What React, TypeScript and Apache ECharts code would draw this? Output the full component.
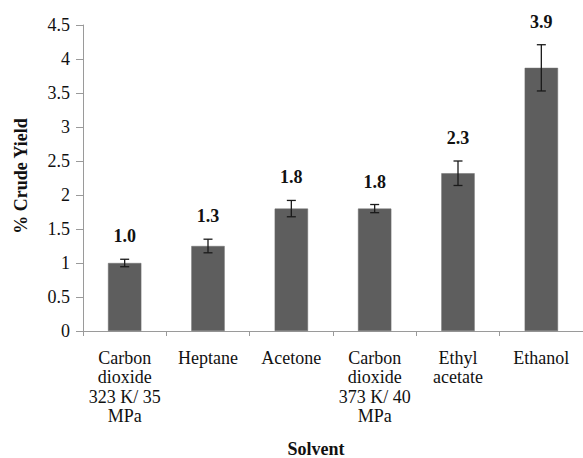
import React, { useEffect, useRef } from "react";
import * as echarts from "echarts";

const categories = [
  "Carbon\ndioxide\n323 K/ 35\nMPa",
  "Heptane",
  "Acetone",
  "Carbon\ndioxide\n373 K/ 40\nMPa",
  "Ethyl\nacetate",
  "Ethanol",
];
const yieldValues = [1.0, 1.25, 1.8, 1.8, 2.32, 3.87];
const errorValues = [0.055, 0.1, 0.12, 0.06, 0.18, 0.34];
const valueLabels = ["1.0", "1.3", "1.8", "1.8", "2.3", "3.9"];
const yTickMin = 0;
const yTickMax = 4.5;
const yTickStep = 0.5;

const FONT = "Liberation Serif";

export default function App() {
  const ref = useRef<HTMLDivElement>(null);
  useEffect(() => {
    if (!ref.current) return;
    const chart = echarts.init(ref.current, null, { renderer: "svg" });
    const errData = yieldValues.map((v, i) => [i, v + errorValues[i], v - errorValues[i], i]);
    chart.setOption({
      animation: false,
      backgroundColor: "#ffffff",
      textStyle: { fontFamily: FONT },
      grid: { left: 83, right: -7, top: 25, bottom: 127, containLabel: false },
      xAxis: {
        type: "category",
        data: categories,
        boundaryGap: true,
        axisLine: { lineStyle: { color: "#9a9a9a", width: 1 } },
        axisTick: { show: true, length: 5, lineStyle: { color: "#9a9a9a" }, alignWithLabel: false },
        axisLabel: {
          interval: 0,
          color: "#111",
          fontFamily: FONT,
          fontSize: 18,
          lineHeight: 19.5,
          margin: 17,
        },
        splitLine: { show: false },
      },
      yAxis: {
        type: "value",
        min: yTickMin,
        max: yTickMax,
        interval: yTickStep,
        axisLine: { show: true, lineStyle: { color: "#9a9a9a", width: 1 } },
        axisTick: { show: true, length: 7, lineStyle: { color: "#9a9a9a" } },
        axisLabel: {
          color: "#111",
          fontFamily: FONT,
          fontSize: 18,
          margin: 13,
          formatter: (v: number) => String(v),
        },
        splitLine: { show: false },
      },
      graphic: [
        {
          type: "text",
          x: 21,
          y: 176,
          rotation: Math.PI / 2,
          style: {
            text: "% Crude Yield",
            fill: "#111",
            fontFamily: FONT,
            fontWeight: "bold",
            fontSize: 18,
            textAlign: "center",
            textVerticalAlign: "middle",
          },
        },
        {
          type: "text",
          x: 316,
          y: 449,
          style: {
            text: "Solvent",
            fill: "#111",
            fontFamily: FONT,
            fontWeight: "bold",
            fontSize: 18,
            textAlign: "center",
            textVerticalAlign: "middle",
          },
        },
      ],
      series: [
        {
          type: "bar",
          data: yieldValues,
          barWidth: "40%",
          itemStyle: { color: "#5e5e5e", borderColor: "#6e6e6e", borderWidth: 0.5 },
        },
        {
          type: "custom",
          data: errData,
          z: 10,
          renderItem: (params: any, api: any) => {
            const x = api.value(0);
            const hi = api.value(1);
            const lo = api.value(2);
            const idx = api.value(3);
            const top = api.coord([x, hi]);
            const bot = api.coord([x, lo]);
            const hw = 4.5;
            const st = { stroke: "#1a1a1a", lineWidth: 1.3 };
            return {
              type: "group",
              children: [
                { type: "line", shape: { x1: top[0], y1: top[1], x2: bot[0], y2: bot[1] }, style: st },
                { type: "line", shape: { x1: top[0] - hw, y1: top[1], x2: top[0] + hw, y2: top[1] }, style: st },
                { type: "line", shape: { x1: bot[0] - hw, y1: bot[1], x2: bot[0] + hw, y2: bot[1] }, style: st },
                {
                  type: "text",
                  x: top[0],
                  y: top[1] - 23,
                  style: {
                    text: valueLabels[idx],
                    fill: "#111",
                    fontFamily: FONT,
                    fontWeight: "bold",
                    fontSize: 18,
                    textAlign: "center",
                    textVerticalAlign: "middle",
                  },
                },
              ],
            };
          },
        },
      ],
    });
    return () => chart.dispose();
  }, []);
  return <div ref={ref} style={{ width: 583, height: 458, position: "absolute", left: 0, top: 0 }} />;
}
